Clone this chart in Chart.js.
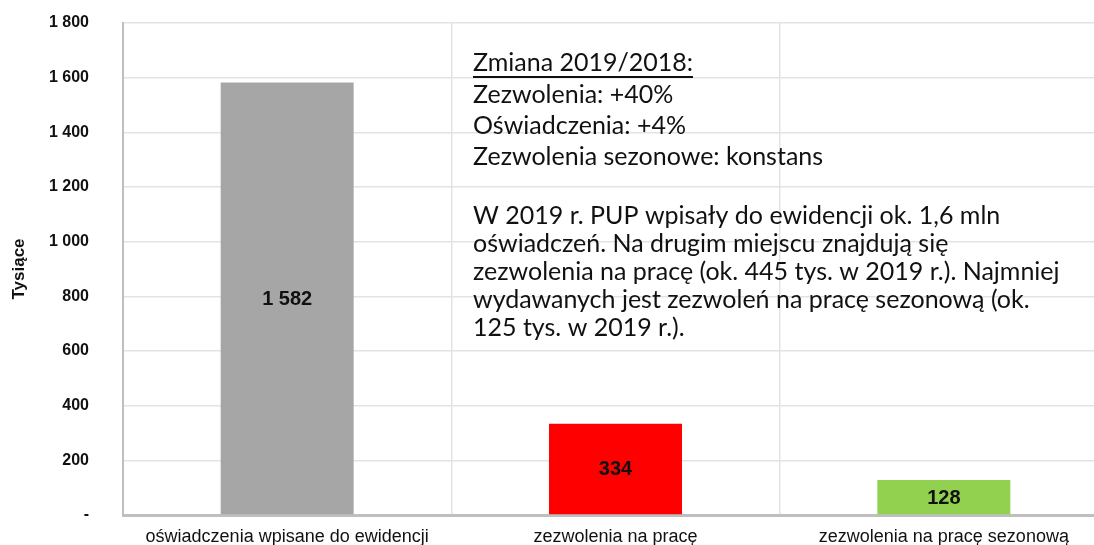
<!DOCTYPE html>
<html>
<head>
<meta charset="utf-8">
<script src="https://cdn.jsdelivr.net/npm/chart.js@4.4.1/dist/chart.umd.min.js"></script>
<style>
  html, body { margin: 0; padding: 0; background: #fff; overflow: hidden; }
  #wrap { width: 1110px; height: 545px; }
</style>
</head>
<body>
<div id="wrap"><canvas id="myChart"></canvas></div>
<script>
// dane
const kategorie = ['oświadczenia wpisane do ewidencji', 'zezwolenia na pracę', 'zezwolenia na pracę sezonową'];
const wartosci = [1582, 334, 128];
const kolory = ['#a6a6a6', '#ff0000', '#92d050'];
const yMin = 0, yMax = 1800, yKrok = 200;

const naglowek = 'Zmiana 2019/2018:';
const zmiany = ['Zezwolenia: +40%', 'Oświadczenia: +4%', 'Zezwolenia sezonowe: konstans'];
const akapit = [
    'W 2019 r. PUP wpisały do ewidencji ok. 1,6 mln',
    'oświadczeń. Na drugim miejscu znajdują się',
    'zezwolenia na pracę (ok. 445 tys. w 2019 r.). Najmniej',
    'wydawanych jest zezwoleń na pracę sezonową (ok.',
    '125 tys. w 2019 r.).'
];

function fmt(v) {
    if (v === 0) return '-';
    return String(v).replace(/\B(?=(\d{3})+(?!\d))/g, ' ');
}

// liczby na slupkach
const etykietyWartosci = {
    id: 'etykietyWartosci',
    afterDatasetsDraw(chart) {
        const ctx = chart.ctx;
        const meta = chart.getDatasetMeta(0);
        ctx.save();
        ctx.font = 'bold 20px "Liberation Sans", Arial, sans-serif';
        ctx.fillStyle = '#111';
        ctx.textAlign = 'center';
        ctx.textBaseline = 'middle';
        meta.data.forEach((bar, i) => {
            ctx.fillText(fmt(wartosci[i]), bar.x, (bar.y + bar.base) / 2 + 1);
        });
        ctx.restore();
    }
};

// opis w srodku wykresu
const opisTekst = {
    id: 'opisTekst',
    afterDraw(chart) {
        const ctx = chart.ctx;
        const x = 473;
        ctx.save();
        ctx.font = '25px Lato, "Open Sans", sans-serif';
        ctx.fillStyle = '#111';
        ctx.textAlign = 'left';
        ctx.textBaseline = 'middle';
        ctx.fillText(naglowek, x, 63);
        const w = ctx.measureText(naglowek).width;
        ctx.fillRect(x, 76, w, 2);
        zmiany.forEach((t, i) => ctx.fillText(t, x, 95 + i * 31));
        akapit.forEach((t, i) => ctx.fillText(t, x, 216 + i * 28));
        ctx.restore();
    }
};

const ctx = myChart.getContext('2d');
const chart = new Chart(ctx, {
    type: 'bar',
    data: {
        labels: kategorie,
        datasets: [{
            data: wartosci,
            backgroundColor: kolory,
            borderWidth: 0,
            barPercentage: 0.405,
            categoryPercentage: 1
        }]
    },
    options: {
        responsive: true,
        maintainAspectRatio: false,
        animation: false,
        layout: { padding: { top: 23, right: 2, left: 0, bottom: 0 } },
        plugins: {
            legend: { display: false },
            tooltip: { enabled: false }
        },
        scales: {
            x: {
                grid: {
                    color: '#e3e3e3',
                    lineWidth: 1.5,
                    drawTicks: false,
                    offset: true
                },
                border: { color: '#bfbfbf', width: 3 },
                ticks: {
                    color: '#111',
                    padding: 11,
                    maxRotation: 0,
                    font: { family: '"Liberation Sans", Arial, sans-serif', size: 18 }
                },
                afterFit(scale) { scale.height = 30; }
            },
            y: {
                min: yMin,
                max: yMax,
                title: {
                    display: true,
                    text: 'Tysiące',
                    color: '#111',
                    padding: { top: 9, bottom: 0 },
                    font: { family: '"Liberation Sans", Arial, sans-serif', size: 17, weight: 'bold' }
                },
                ticks: {
                    stepSize: yKrok,
                    color: '#111',
                    padding: 4,
                    callback: (v) => fmt(v),
                    font: { family: '"Liberation Sans", Arial, sans-serif', size: 16, weight: 'bold' }
                },
                grid: {
                    color: '#e3e3e3',
                    lineWidth: 1.5,
                    drawTicks: true,
                    tickLength: 30,
                    tickColor: 'rgba(0,0,0,0)'
                },
                border: { color: '#bfbfbf', width: 2 },
                afterFit(scale) { scale.width = 123; }
            }
        }
    },
    plugins: [etykietyWartosci, opisTekst]
});
</script>
</body>
</html>
